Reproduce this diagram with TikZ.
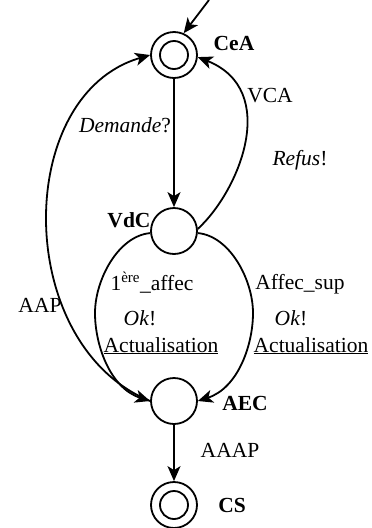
\documentclass[tikz,border=0pt]{standalone}
\usepackage{fontspec}
\setmainfont{Liberation Serif}
\usetikzlibrary{arrows.meta}
\begin{document}
\begin{tikzpicture}[x=1pt,y=-1pt, line width=1.8pt,
  state/.style={circle,draw,minimum size=46pt,inner sep=0pt},
  final/.style={state,path picture={\draw[line width=1.8pt] (path picture bounding box.center) circle[radius=14pt];}},
  lbl/.style={anchor=base,inner sep=0pt,font=\fontsize{21.5}{24}\selectfont},
  slbl/.style={anchor=base,inner sep=0pt,font=\fontsize{21.5}{24}\selectfont\bfseries},
  >={Stealth[length=15pt,width=13pt,inset=4pt]}]
\useasboundingbox (0,0) rectangle (372,528);

\node[final] (CeA) at (174,55) {};
\node[state] (VdC) at (174,231) {};
\node[state] (AEC) at (174,401) {};
\node[final] (CS) at (174,505) {};

\coordinate (init) at (209,0);
\draw[->] (init) -- (CeA.66);
\draw[->] (CeA) -- (VdC);
\draw[->] (VdC.5) .. controls (240,190) and (280,90) .. (CeA.-5);
\draw[->] (AEC.180) .. controls (13,345) and (13,95) .. (CeA.180);
\draw[->] (VdC.185) .. controls (118,236) and (95,280) .. (95,313) .. controls (95,345) and (110,388) .. (AEC.180);
\draw[->] (VdC.-5) .. controls (230,236) and (253,280) .. (253,313) .. controls (253,345) and (238,388) .. (AEC.0);
\draw[->] (AEC) -- (CS);

\node[slbl] (lCeA) at (234,50) {CeA};
\node[slbl] (lVdC) at (129,227) {VdC};
\node[slbl] (lAEC) at (245,410) {AEC};
\node[slbl] (lCS) at (232,512) {CS};
\node[lbl] (lDem) at (125,132) {\textit{Demande}?};
\node[lbl] (lVCA) at (270,102) {VCA};
\node[lbl] (lRef) at (300,165) {\textit{Refus}!};
\node[lbl] (lAAP) at (40,312) {AAP};
\node[lbl] (l1a) at (152,290) {1\textsuperscript{ère}\_affec};
\node[lbl] (l1b) at (140,325) {\textit{Ok}!};
\node[lbl] (l1c) at (161,352) {\underline{Actualisation}};
\node[lbl] (l2a) at (300,289) {Affec\_sup};
\node[lbl] (l2b) at (291,325) {\textit{Ok}!};
\node[lbl] (l2c) at (311,352) {\underline{Actualisation}};
\node[lbl] (lAAAP) at (230,457) {AAAP};
\end{tikzpicture}
\end{document}
